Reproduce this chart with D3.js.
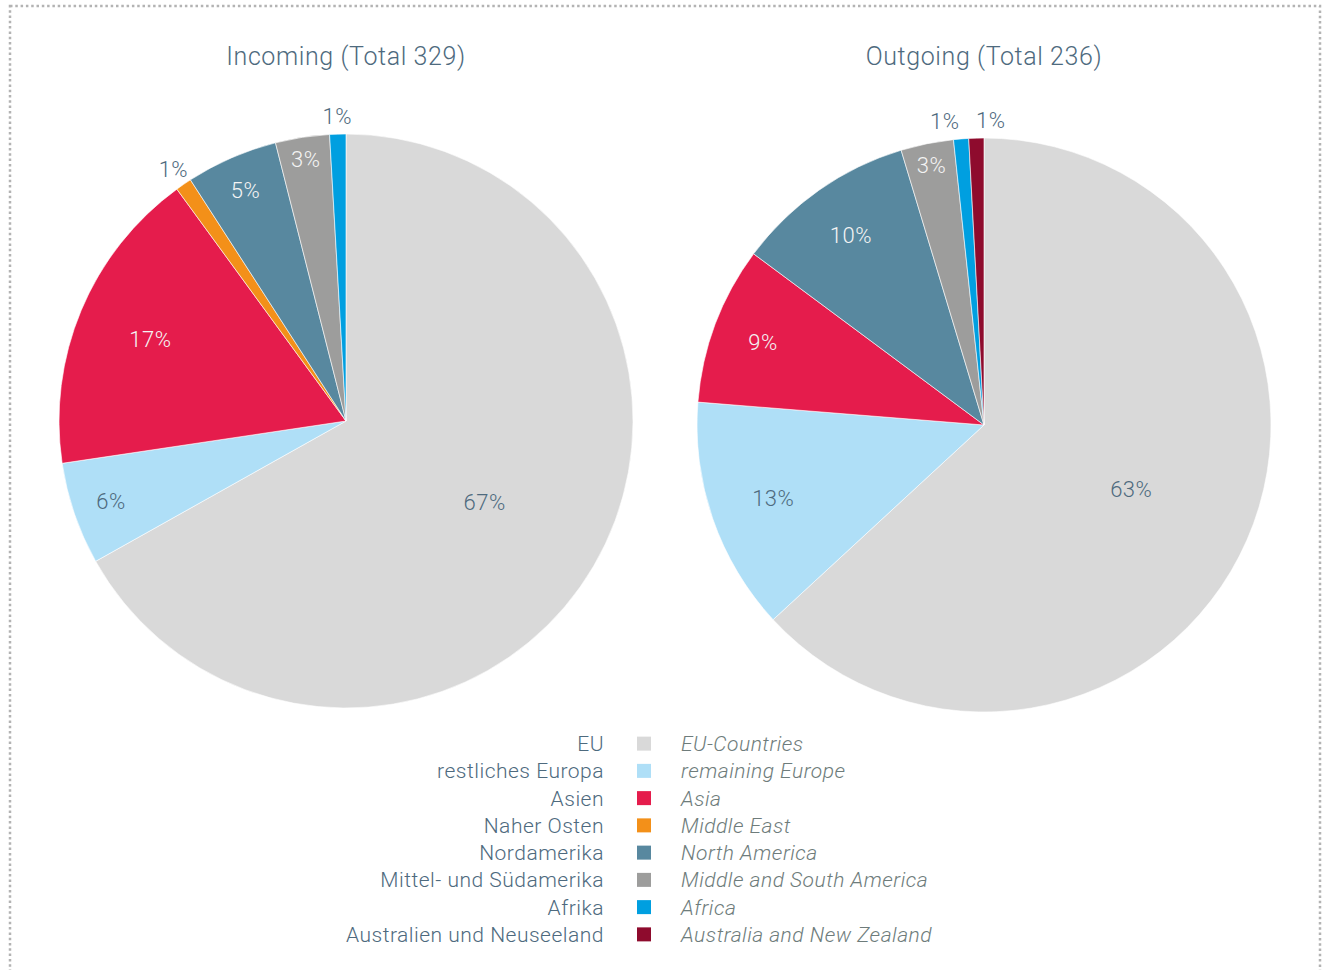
<!DOCTYPE html>
<html>
<head>
<meta charset="utf-8">
<script src="https://cdn.jsdelivr.net/npm/d3@7"></script>
<style>
  html, body { margin: 0; padding: 0; background: #fff; }
  svg { display: block; font-family: "Helvetica Neue", Roboto, "Liberation Sans", sans-serif; font-weight: 300; }
</style>
</head>
<body>
<div id="chart"></div>
<script>
// region categories, in drawing order (clockwise from 12 o'clock)
const categoriesDe = ["EU", "restliches Europa", "Asien", "Naher Osten", "Nordamerika",
  "Mittel- und Südamerika", "Afrika", "Australien und Neuseeland"];
const categoriesEn = ["EU-Countries", "remaining Europe", "Asia", "Middle East", "North America",
  "Middle and South America", "Africa", "Australia and New Zealand"];
const colors = ["#d9d9d9", "#afdff7", "#e51c4c", "#f39019", "#58889f", "#9d9d9c", "#009fe0", "#8e0b2d"];

// counts
const incoming = [220, 19, 57, 3, 17, 10, 3, 0];
const outgoing = [149, 31, 21, 0, 24, 7, 2, 2];
const titles = ["Incoming (Total 329)", "Outgoing (Total 236)"];

const width = 1326, height = 970;
const radius = 287;
const darkText = "#4e6a7e", enText = "#6e7c7b";
const lightSlices = new Set([0, 1]);

const svg = d3.select("#chart").append("svg")
  .attr("width", width).attr("height", height);

// dotted frame
svg.append("rect")
  .attr("x", 10).attr("y", 6).attr("width", 1310).attr("height", 975)
  .attr("fill", "none").attr("stroke", "#b3b3b3").attr("stroke-width", 2.5)
  .attr("stroke-dasharray", "2.5 2.8");

const pie = d3.pie().sort(null).value(d => d);
const arc = d3.arc().innerRadius(0).outerRadius(radius);
// offset of inner labels from the rim, by share of slice
const insetScale = d3.scaleLinear().domain([0.03, 0.06, 0.10, 0.17]).range([22, 40, 55, 75]).clamp(true);

function drawPie(values, title, cx, cy) {
  const total = d3.sum(values);
  const g = svg.append("g").attr("transform", `translate(${cx},${cy})`);

  svg.append("text")
    .attr("x", cx).attr("y", 65)
    .attr("text-anchor", "middle")
    .attr("font-size", 25)
    .attr("letter-spacing", 0.6)
    .attr("fill", darkText)
    .text(title);

  const arcs = pie(values).map((d, i) => ({ ...d, idx: i }));

  g.selectAll("path")
    .data(arcs.filter(d => d.value > 0))
    .join("path")
      .attr("d", arc)
      .attr("fill", d => colors[d.idx])
      .attr("stroke", "#fff")
      .attr("stroke-width", 0.6);

  // label positions
  const labels = arcs.filter(d => d.value > 0).map(d => {
    const frac = d.value / total;
    const a = (d.startAngle + d.endAngle) / 2;
    let r, outside = false;
    if (frac > 0.5) r = radius * 0.56;
    else if (frac < 0.02) { r = radius + 18; outside = true; }
    else r = radius - insetScale(frac);
    return {
      idx: d.idx, outside,
      x: Math.sin(a) * r, y: -Math.cos(a) * r,
      text: Math.round(frac * 100) + "%"
    };
  });

  // push apart outside labels that would overlap
  const outs = labels.filter(l => l.outside).sort((a, b) => a.x - b.x);
  for (let k = 1; k < outs.length; k++) {
    const p = outs[k - 1], q = outs[k];
    if (Math.abs(p.y - q.y) < 25 && q.x - p.x < 46) {
      const mid = (p.x + q.x) / 2;
      p.x = mid - 23; q.x = mid + 23;
    }
  }

  g.selectAll("text.lbl")
    .data(labels)
    .join("text")
      .attr("class", "lbl")
      .attr("x", d => d.x).attr("y", d => d.y)
      .attr("dy", "0.36em")
      .attr("text-anchor", "middle")
      .attr("font-size", 22)
      .attr("letter-spacing", 0.5)
      .attr("fill", d => (d.outside || lightSlices.has(d.idx)) ? darkText : "#f4f4f4")
      .text(d => d.text);
}

drawPie(incoming, titles[0], 346, 421);
drawPie(outgoing, titles[1], 984, 425);

// legend
const legendY = d3.scaleBand().domain(d3.range(categoriesDe.length)).range([730, 948]);
const legend = svg.append("g");
const rows = legend.selectAll("g")
  .data(categoriesDe.map((de, i) => ({ de, en: categoriesEn[i], color: colors[i], i })))
  .join("g")
    .attr("transform", d => `translate(0,${legendY(d.i) + legendY.bandwidth() / 2})`);

rows.append("text")
  .attr("x", 604).attr("dy", "0.36em")
  .attr("text-anchor", "end")
  .attr("font-size", 21)
  .attr("letter-spacing", 0.5)
  .attr("fill", darkText)
  .text(d => d.de);

rows.append("rect")
  .attr("x", 637).attr("y", -7).attr("width", 14).attr("height", 14)
  .attr("fill", d => d.color);

rows.append("text")
  .attr("x", 681).attr("dy", "0.36em")
  .attr("font-size", 21)
  .attr("letter-spacing", 0.5)
  .attr("font-style", "italic")
  .attr("fill", enText)
  .text(d => d.en);
</script>
</body>
</html>
